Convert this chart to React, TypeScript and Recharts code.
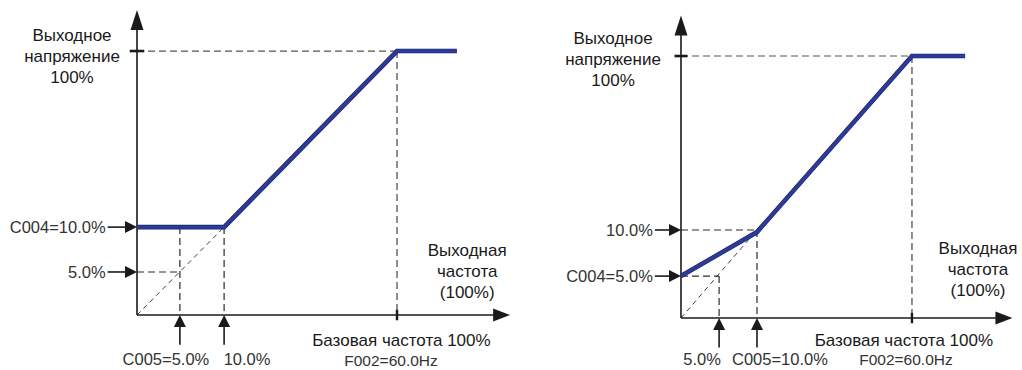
import { LineChart, Line, XAxis, YAxis, ReferenceLine, ReferenceDot } from "recharts";

const FONT = "'Liberation Sans', Arial, sans-serif";
const BLUE = "#2c3a99";
const INK = "#1a1a1a";

// схема слева: C004=10%, C005=5%
const LEFT_FREQ = [0, 33.5, 100, 123];
const LEFT_VOLT = [33.3, 33.3, 100, 100];
const LEFT_Y_MARKS = [33.3, 16.3];
const LEFT_Y_LABELS = ["C004=10.0%", "5.0%"];
const LEFT_X_MARKS = [16.5, 33.5];
const LEFT_X_TOPS = [33.3, 33.3];
const LEFT_X_LABELS = ["C005=5.0%", "10.0%"];

// схема справа: C004=5%, C005=10%
const RIGHT_FREQ = [0, 32.9, 100, 123];
const RIGHT_VOLT = [16, 32.8, 100, 100];
const RIGHT_Y_MARKS = [33.6, 16];
const RIGHT_Y_LABELS = ["10.0%", "C004=5.0%"];
const RIGHT_X_MARKS = [16.5, 32.9];
const RIGHT_X_TOPS = [16, 33.6];
const RIGHT_X_LABELS = ["5.0%", "C005=10.0%"];

const Y_TITLE = ["Выходное", "напряжение", "100%"];
const X_TITLE = ["Выходная", "частота", "(100%)"];
const BASE_LABEL = "Базовая частота 100%";
const BASE_CODE = "F002=60.0Hz";

const FULL = 100;
const X_TIP = 143.5;
const Y_TIP = 115.5;
const ARROW_LEN = 11.3;

const text = (lines: string[], anchor: "start" | "middle" | "end", size: number, dx = 0, fill = INK) =>
    (p: any) => (
        <text x={p.cx + dx} y={p.cy} textAnchor={anchor} fontSize={size} fontFamily={FONT}
            fill={fill} dominantBaseline="central">
            {lines.map((l, i) => (
                <tspan key={i} x={p.cx + dx} dy={i === 0 ? 0 : 21}>{l}</tspan>
            ))}
        </text>
    );

const head = (dir: "up" | "right", len: number, half: number) => (p: any) => {
    const { cx, cy } = p;
    const pts = dir === "up"
        ? `${cx},${cy} ${cx - half},${cy + len} ${cx + half},${cy + len}`
        : `${cx},${cy} ${cx - len},${cy - half} ${cx - len},${cy + half}`;
    return <polygon points={pts} fill={INK} />;
};

type PanelProps = {
    width: number;
    margin: { top: number; right: number; bottom: number; left: number };
    xDomain: [number, number];
    yDomain: [number, number];
    freq: number[];
    volt: number[];
    yMarks: number[];
    yLabels: string[];
    xMarks: number[];
    xTops: number[];
    xLabels: string[];
    xLabelDx: number[];
    xLabelY: number;
    hGuides: { x: number; y: number }[];
    knee: { x: number; y: number };
    yTitleAt: { x: number; y: number };
    xTitleAt: { x: number; y: number };
    baseAt: { x: number; y: number };
    codeAt: { x: number; y: number };
};

function Panel(props: PanelProps) {
    const data = props.freq.map((f, i) => ({ f, v: props.volt[i] }));
    const dash = { stroke: "#2a2a2a", strokeWidth: 1.2, strokeDasharray: "7 4", ifOverflow: "visible" as const };
    const solid = { stroke: INK, strokeWidth: 1.6, ifOverflow: "visible" as const };
    const dot = { r: 0, ifOverflow: "visible" as const };

    return (
        <LineChart width={props.width} height={370} data={data} margin={props.margin}>
            <XAxis dataKey="f" type="number" domain={props.xDomain} hide allowDataOverflow />
            <YAxis type="number" domain={props.yDomain} hide allowDataOverflow />

            {/* пунктирные вспомогательные линии */}
            <ReferenceLine segment={[{ x: 0, y: FULL }, { x: FULL, y: FULL }]} {...dash} stroke="#555" />
            <ReferenceLine segment={[{ x: FULL, y: FULL }, { x: FULL, y: 0 }]} {...dash} stroke="#444" />
            <ReferenceLine segment={[{ x: 0, y: 0 }, props.knee]} {...dash} strokeDasharray="5 4" strokeWidth={0.9} />
            {props.hGuides.map((g, i) => (
                <ReferenceLine key={`h${i}`} segment={[{ x: 0, y: g.y }, { x: g.x, y: g.y }]} {...dash} />
            ))}
            {props.xMarks.map((x, i) => (
                <ReferenceLine key={`v${i}`} segment={[{ x, y: props.xTops[i] }, { x, y: 0 }]} {...dash} />
            ))}

            {/* оси */}
            <ReferenceLine segment={[{ x: 0, y: 0 }, { x: X_TIP - 5, y: 0 }]} {...solid} />
            <ReferenceLine segment={[{ x: 0, y: 0 }, { x: 0, y: Y_TIP - 5 }]} {...solid} />
            <ReferenceDot x={X_TIP} y={0} {...dot} shape={head("right", 17, 6.5)} />
            <ReferenceDot x={0} y={Y_TIP} {...dot} shape={head("up", 20, 6.5)} />
            <ReferenceLine segment={[{ x: -2.8, y: FULL }, { x: 2.8, y: FULL }]} {...solid} strokeWidth={2.6} />
            <ReferenceLine segment={[{ x: FULL, y: -2 }, { x: FULL, y: 2 }]} {...solid} strokeWidth={2.4} />

            {/* стрелки уставок */}
            {props.yMarks.map((y, i) => [
                <ReferenceLine key={`ya${i}`} segment={[{ x: -ARROW_LEN, y }, { x: -3, y }]} {...solid} />,
                <ReferenceDot key={`yh${i}`} x={0} y={y} {...dot} shape={head("right", 12, 6)} />,
                <ReferenceDot key={`yl${i}`} x={-ARROW_LEN} y={y} {...dot}
                    shape={text([props.yLabels[i]], "end", 16.5, -2, "#333")} />,
            ])}
            {props.xMarks.map((x, i) => [
                <ReferenceLine key={`xa${i}`} segment={[{ x, y: -ARROW_LEN }, { x, y: -3 }]} {...solid} />,
                <ReferenceDot key={`xh${i}`} x={x} y={0} {...dot} shape={head("up", 12, 6)} />,
                <ReferenceDot key={`xl${i}`} x={x} y={props.xLabelY} {...dot}
                    shape={text([props.xLabels[i]], "middle", 16.5, props.xLabelDx[i], "#333")} />,
            ])}

            {/* подписи */}
            <ReferenceDot x={props.yTitleAt.x} y={props.yTitleAt.y} {...dot} shape={text(Y_TITLE, "middle", 17)} />
            <ReferenceDot x={props.xTitleAt.x} y={props.xTitleAt.y} {...dot} shape={text(X_TITLE, "middle", 17)} />
            <ReferenceDot x={props.baseAt.x} y={props.baseAt.y} {...dot} shape={text([BASE_LABEL], "middle", 17)} />
            <ReferenceDot x={props.codeAt.x} y={props.codeAt.y} {...dot} shape={text([BASE_CODE], "middle", 15.5, 0, "#333")} />

            <Line dataKey="v" type="linear" stroke="#1c2360" strokeWidth={4.6} dot={false}
                isAnimationActive={false} />
            <Line dataKey="v" type="linear" stroke={BLUE} strokeWidth={3.4} dot={false}
                isAnimationActive={false} />
        </LineChart>
    );
}

export default function App() {
    return (
        <div style={{ position: "absolute", left: 0, top: 0, width: 1022, height: 370, background: "#fff" }}>
            <div style={{ position: "absolute", left: 0, top: 0 }}>
                <Panel
                    width={520}
                    margin={{ top: 8.8, right: 8.6, bottom: 2.2, left: 1.8 }}
                    xDomain={[-52, 144]}
                    yDomain={[-20, 116]}
                    freq={LEFT_FREQ}
                    volt={LEFT_VOLT}
                    yMarks={LEFT_Y_MARKS}
                    yLabels={LEFT_Y_LABELS}
                    xMarks={LEFT_X_MARKS}
                    xTops={LEFT_X_TOPS}
                    xLabels={LEFT_X_LABELS}
                    xLabelDx={[-14, 23]}
                    xLabelY={-16.8}
                    hGuides={[{ x: LEFT_X_MARKS[0], y: LEFT_Y_MARKS[1] }]}
                    knee={{ x: LEFT_FREQ[1], y: LEFT_VOLT[1] }}
                    yTitleAt={{ x: -25, y: 106 }}
                    xTitleAt={{ x: 127, y: 24.6 }}
                    baseAt={{ x: 101.7, y: -9.5 }}
                    codeAt={{ x: 97.7, y: -17.2 }}
                />
            </div>
            <div style={{ position: "absolute", left: 519, top: 0 }}>
                <Panel
                    width={503}
                    margin={{ top: 14.1, right: 8.4, bottom: 0.9, left: 0.3 }}
                    xDomain={[-70, 144]}
                    yDomain={[-19.5, 116]}
                    freq={RIGHT_FREQ}
                    volt={RIGHT_VOLT}
                    yMarks={RIGHT_Y_MARKS}
                    yLabels={RIGHT_Y_LABELS}
                    xMarks={RIGHT_X_MARKS}
                    xTops={RIGHT_X_TOPS}
                    xLabels={RIGHT_X_LABELS}
                    xLabelDx={[-17, 23]}
                    xLabelY={-15.6}
                    hGuides={[
                        { x: RIGHT_X_MARKS[1], y: RIGHT_Y_MARKS[0] },
                        { x: RIGHT_X_MARKS[0], y: RIGHT_Y_MARKS[1] },
                    ]}
                    knee={{ x: RIGHT_X_MARKS[1], y: RIGHT_Y_MARKS[0] }}
                    yTitleAt={{ x: -29.4, y: 106.9 }}
                    xTitleAt={{ x: 128.6, y: 26.7 }}
                    baseAt={{ x: 96.5, y: -8.4 }}
                    codeAt={{ x: 97.4, y: -15.8 }}
                />
            </div>
        </div>
    );
}
